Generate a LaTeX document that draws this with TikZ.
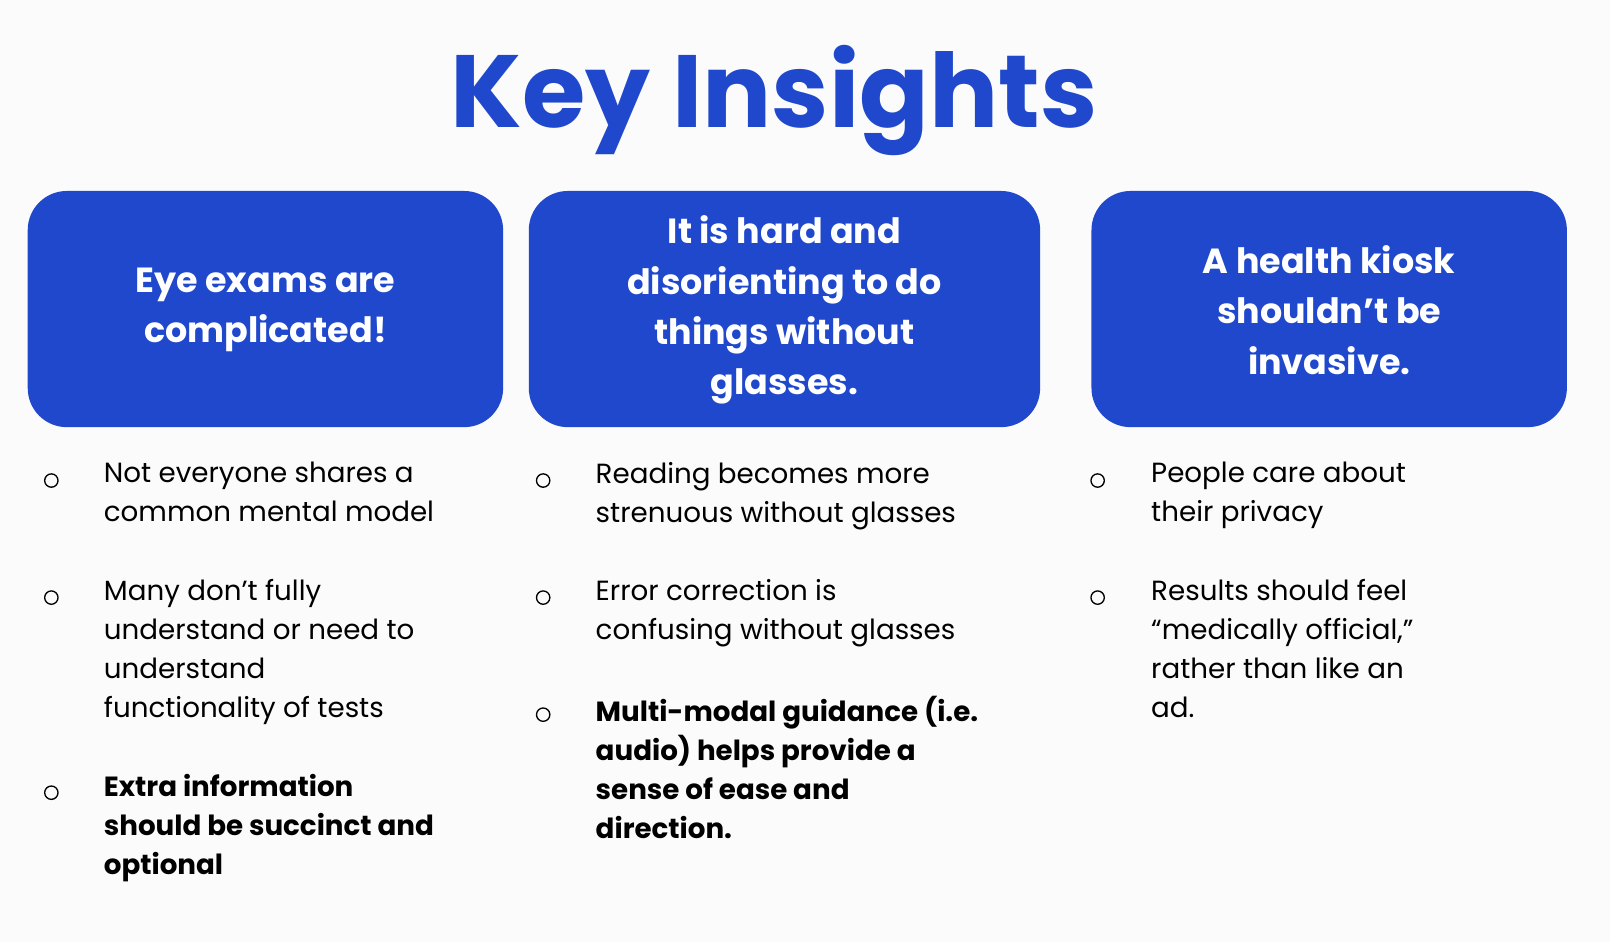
\documentclass[tikz,border=0pt]{standalone}
\usepackage{fontspec}
\setmainfont{Poppins}
\definecolor{kblue}{HTML}{1F48CC}
\definecolor{bg}{HTML}{FBFBFB}
\begin{document}
\begin{tikzpicture}[x=1pt,y=-1pt,
  hbox/.style={fill=kblue,rounded corners=38pt,text=white,align=center,font=\fontsize{34}{49}\selectfont\bfseries,inner sep=0},
  bul/.style={circle,draw,line width=1.3pt,minimum size=13pt,inner sep=0},
  itm/.style={anchor=north west,align=left,inner sep=0,font=\fontsize{27}{38}\selectfont}]
\fill[bg] (0,0) rectangle (1568,917);
\useasboundingbox (0,0) rectangle (1568,917);
\node[text=kblue,font=\fontsize{100}{100}\selectfont\bfseries] (title) at (754,98) {Key Insights};
\fill[kblue,rounded corners=38pt] (27,186) rectangle (490,416);
\node[text=white,align=center,font=\fontsize{34}{49}\selectfont\bfseries] (h1) at (258.5,302) {Eye exams are\\complicated!};
\fill[kblue,rounded corners=38pt] (515,186) rectangle (1013,416);
\node[text=white,align=center,font=\fontsize{34}{49}\selectfont\bfseries] (h2) at (764,302) {It is hard and\\disorienting to do\\things without\\glasses.};
\fill[kblue,rounded corners=38pt] (1063,186) rectangle (1526,416);
\node[text=white,align=center,font=\fontsize{34}{49}\selectfont\bfseries] (h3) at (1294.5,302) {A health kiosk\\shouldn’t be\\invasive.};
% column 1
\node[bul] (b11) at (50,468) {};
\node[itm] (t11) at (101,450) {Not everyone shares a\\common mental model};
\node[bul] (b12) at (50,582) {};
\node[itm] (t12) at (101,564) {Many don’t fully\\understand or need to\\understand\\functionality of tests};
\node[bul] (b13) at (50,772) {};
\node[itm,font=\fontsize{27}{38}\selectfont\bfseries] (t13) at (101,754) {Extra information\\should be succinct and\\optional};
% column 2
\node[bul] (b21) at (529,468) {};
\node[itm] (t21) at (580,450) {Reading becomes more\\strenuous without glasses};
\node[bul] (b22) at (529,582) {};
\node[itm] (t22) at (580,564) {Error correction is\\confusing without glasses};
\node[bul] (b23) at (529,696) {};
\node[itm,font=\fontsize{27}{38}\selectfont\bfseries] (t23) at (580,678) {Multi-modal guidance (i.e.\\audio) helps provide a\\sense of ease and\\direction.};
% column 3
\node[bul] (b31) at (1069,468) {};
\node[itm] (t31) at (1121,450) {People care about\\their privacy};
\node[bul] (b32) at (1069,582) {};
\node[itm] (t32) at (1121,564) {Results should feel\\“medically official,”\\rather than like an\\ad.};
\end{tikzpicture}
\end{document}
